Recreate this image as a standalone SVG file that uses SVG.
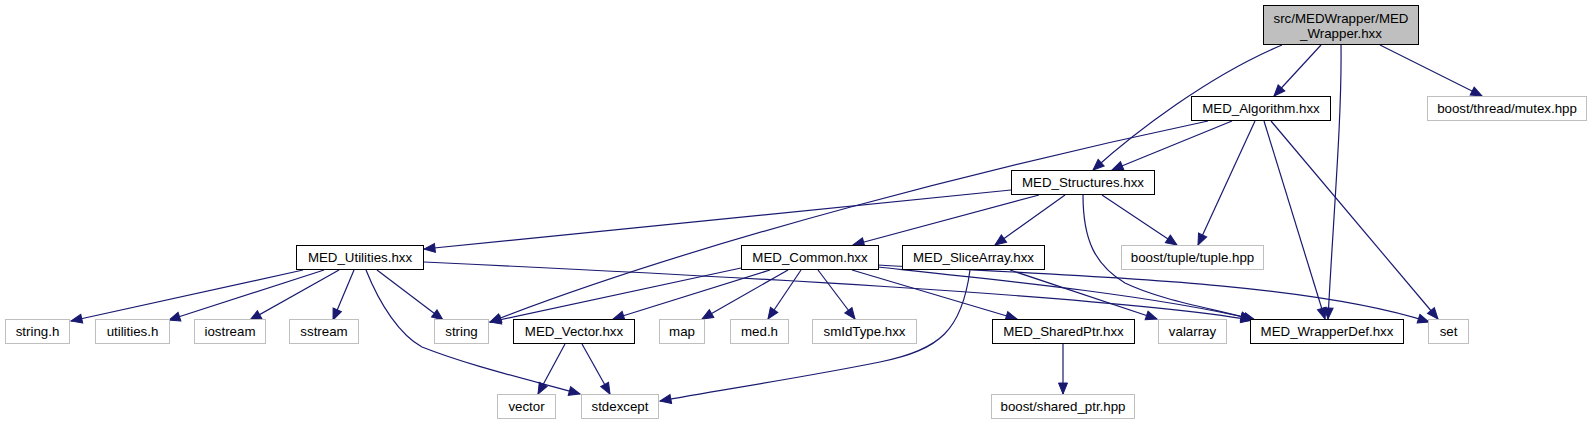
<svg xmlns="http://www.w3.org/2000/svg" width="1592" height="425" viewBox="0 0 1592 425">
<defs>
<marker id="ah" markerUnits="userSpaceOnUse" markerWidth="13" markerHeight="10" refX="11" refY="4.5" orient="auto" overflow="visible">
<path d="M0,0 L11,4.5 L0,9 z" fill="#191970" stroke="#191970" stroke-width="1"/>
</marker>
</defs>
<style>
rect{stroke-width:1}
.n rect{fill:#ffffff;stroke:#000000}
.x rect{fill:#ffffff;stroke:#bfbfbf}
.r rect{fill:#bfbfbf;stroke:#000000}
text{font-family:"Liberation Sans",Arial,Helvetica,sans-serif;font-size:13.3px;text-anchor:middle;fill:#000000}
#edges path{fill:none;stroke:#191970;stroke-width:1.2;marker-end:url(#ah)}
</style>
<rect x="0" y="0" width="1592" height="425" fill="#ffffff"/>
<g id="edges">
<path d="M1321,45 L1274,96"/>
<path d="M1282,45 C1210,75 1135,132 1093,170"/>
<path d="M1341,45 C1342,120 1333,220 1328,319"/>
<path d="M1380,45 L1482,96"/>
<path d="M1232,121 L1112,170"/>
<path d="M1208,121 C1000,165 700,240 490,322"/>
<path d="M1255,121 L1198,245"/>
<path d="M1264,121 L1325,319"/>
<path d="M1271,121 L1438,319"/>
<path d="M1011,190 L424,249"/>
<path d="M1039,195 L853,245"/>
<path d="M1065,195 L995,245"/>
<path d="M1102,195 L1177,245"/>
<path d="M1083,195 C1083,240 1095,265 1125,283 C1160,300 1210,308 1255,320"/>
<path d="M303,270 L71,321"/>
<path d="M324,270 L169,320"/>
<path d="M339,270 L250,320"/>
<path d="M354,270 L333,320"/>
<path d="M377,270 L443,320"/>
<path d="M366,270 C380,305 400,335 422,347 C470,366 530,380 580,394"/>
<path d="M424,262 C700,275 1100,295 1252,320"/>
<path d="M741,268 L490,322"/>
<path d="M770,270 L613,319"/>
<path d="M788,270 L702,319"/>
<path d="M801,270 L768,319"/>
<path d="M818,270 L855,319"/>
<path d="M852,270 L1017,319"/>
<path d="M878,267 C1000,280 1150,295 1252,319"/>
<path d="M878,265 C1050,275 1300,280 1429,322"/>
<path d="M1010,270 L1157,319"/>
<path d="M970,270 C962,330 940,350 880,362 C800,378 720,390 660,401"/>
<path d="M565,344 L538,394"/>
<path d="M582,344 L610,394"/>
<path d="M1063,344 L1063,394"/>
</g>
<g id="node_root" class="r"><rect x="1263.5" y="5.5" width="155" height="39"/><text x="1341" y="23">src/MEDWrapper/MED</text><text x="1341" y="38">_Wrapper.hxx</text></g>
<g id="node_algorithm" class="n"><rect x="1191.5" y="96.5" width="139" height="24"/><text x="1261" y="113">MED_Algorithm.hxx</text></g>
<g id="node_mutex" class="x"><rect x="1427.5" y="96.5" width="159" height="24"/><text x="1507" y="113">boost/thread/mutex.hpp</text></g>
<g id="node_structures" class="n"><rect x="1011.5" y="170.5" width="143" height="24"/><text x="1083" y="187">MED_Structures.hxx</text></g>
<g id="node_tuple" class="x"><rect x="1121.5" y="245.5" width="142" height="24"/><text x="1192.5" y="262">boost/tuple/tuple.hpp</text></g>
<g id="node_utilities" class="n"><rect x="296.5" y="245.5" width="127" height="24"/><text x="360" y="262">MED_Utilities.hxx</text></g>
<g id="node_common" class="n"><rect x="741.5" y="245.5" width="137" height="24"/><text x="810" y="262">MED_Common.hxx</text></g>
<g id="node_slicearray" class="n"><rect x="902.5" y="245.5" width="142" height="24"/><text x="973.5" y="262">MED_SliceArray.hxx</text></g>
<g id="node_stringh" class="x"><rect x="5.5" y="319.5" width="64" height="24"/><text x="37.5" y="336">string.h</text></g>
<g id="node_utilitiesh" class="x"><rect x="95.5" y="319.5" width="74" height="24"/><text x="132.5" y="336">utilities.h</text></g>
<g id="node_iostream" class="x"><rect x="194.5" y="319.5" width="71" height="24"/><text x="230" y="336">iostream</text></g>
<g id="node_sstream" class="x"><rect x="289.5" y="319.5" width="69" height="24"/><text x="324" y="336">sstream</text></g>
<g id="node_string" class="x"><rect x="434.5" y="319.5" width="54" height="24"/><text x="461.5" y="336">string</text></g>
<g id="node_vectorhxx" class="n"><rect x="513.5" y="319.5" width="121" height="24"/><text x="574" y="336">MED_Vector.hxx</text></g>
<g id="node_map" class="x"><rect x="659.5" y="319.5" width="45" height="24"/><text x="682" y="336">map</text></g>
<g id="node_medh" class="x"><rect x="730.5" y="319.5" width="58" height="24"/><text x="759.5" y="336">med.h</text></g>
<g id="node_smidtype" class="x"><rect x="812.5" y="319.5" width="104" height="24"/><text x="864.5" y="336">smIdType.hxx</text></g>
<g id="node_sharedptr" class="n"><rect x="992.5" y="319.5" width="142" height="24"/><text x="1063.5" y="336">MED_SharedPtr.hxx</text></g>
<g id="node_valarray" class="x"><rect x="1158.5" y="319.5" width="68" height="24"/><text x="1192.5" y="336">valarray</text></g>
<g id="node_wrapperdef" class="n"><rect x="1250.5" y="319.5" width="153" height="24"/><text x="1327" y="336">MED_WrapperDef.hxx</text></g>
<g id="node_set" class="x"><rect x="1428.5" y="319.5" width="40" height="24"/><text x="1448.5" y="336">set</text></g>
<g id="node_vector" class="x"><rect x="497.5" y="394.5" width="58" height="24"/><text x="526.5" y="411">vector</text></g>
<g id="node_stdexcept" class="x"><rect x="581.5" y="394.5" width="77" height="24"/><text x="620" y="411">stdexcept</text></g>
<g id="node_boostshared" class="x"><rect x="991.5" y="394.5" width="143" height="24"/><text x="1063" y="411">boost/shared_ptr.hpp</text></g>
</svg>
